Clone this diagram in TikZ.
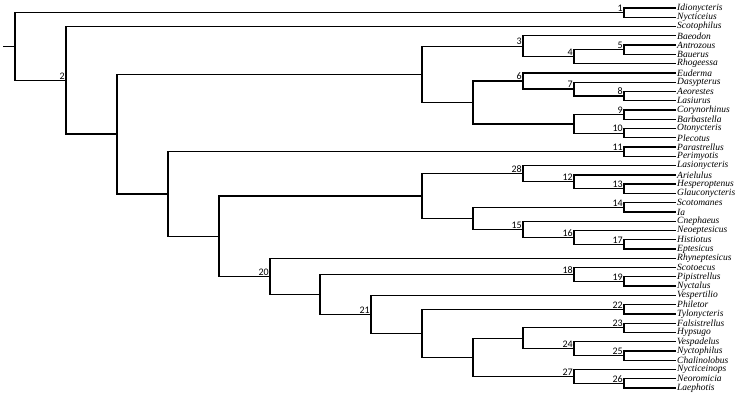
\documentclass[tikz,border=0pt]{standalone}
\usepackage{fontspec}
\setmainfont{Liberation Serif}
\newfontfamily\numfont{Carlito}
\usetikzlibrary{calc}

\tikzset{
  branch/.style={line width=1.3pt},
  taxon/.style={anchor=west, inner sep=1pt, font=\fontsize{9.5}{10}\selectfont\itshape},
  numlab/.style={anchor=south east, inner sep=1pt, font=\fontsize{10}{10}\selectfont\numfont}
}
% name, x, upper child, lower child, label
\newcommand\clade[5]{%
  \path let \p1=(#3), \p2=(#4) in coordinate (#1) at ({#2pt},{0.5*\y1+0.5*\y2});
  \draw[branch] (#3) -| (#1) |- (#4);
  \node[numlab] at (#1) {#5};
}

\begin{document}
\begin{tikzpicture}[x=1pt,y=-1pt]
\useasboundingbox (0,0) rectangle (750,400);

% tips, top to bottom
\foreach[count=\i] \t in {Idionycteris,Nycticeius,Scotophilus,Baeodon,Antrozous,Bauerus,Rhogeessa,
  Euderma,Dasypterus,Aeorestes,Lasiurus,Corynorhinus,Barbastella,Otonycteris,Plecotus,
  Parastrellus,Perimyotis,Lasionycteris,Arielulus,Hesperoptenus,Glauconycteris,Scotomanes,Ia,
  Cnephaeus,Neoeptesicus,Histiotus,Eptesicus,Rhyneptesicus,Scotoecus,Pipistrellus,Nyctalus,
  Vespertilio,Philetor,Tylonycteris,Falsistrellus,Hypsugo,Vespadelus,Nyctophilus,Chalinolobus,
  Nycticeinops,Neoromicia,Laephotis}{
  \coordinate (L\i) at (676,{8+9.27*(\i-1)});
  \node[taxon] (T\i) at (L\i) {\t};
}

% innermost clades first
\clade{n1}{624}{L1}{L2}{1}
\clade{n5}{624}{L5}{L6}{5}
\clade{n4}{574}{n5}{L7}{4}
\clade{n3}{523}{L4}{n4}{3}
\clade{n8}{624}{L10}{L11}{8}
\clade{n7}{574}{L9}{n8}{7}
\clade{n6}{523}{L8}{n7}{6}
\clade{n9}{624}{L12}{L13}{9}
\clade{n10}{624}{L14}{L15}{10}
\clade{nP}{574}{n9}{n10}{}
\clade{nQ}{473}{n6}{nP}{}
\clade{nB}{422}{n3}{nQ}{}
\clade{n11}{624}{L16}{L17}{11}
\clade{n13}{624}{L20}{L21}{13}
\clade{n12}{574}{L19}{n13}{12}
\clade{n28}{523}{L18}{n12}{28}
\clade{n14}{624}{L22}{L23}{14}
\clade{n17}{624}{L26}{L27}{17}
\clade{n16}{574}{L25}{n17}{16}
\clade{n15}{523}{L24}{n16}{15}
\clade{nF}{473}{n14}{n15}{}
\clade{nE}{422}{n28}{nF}{}
\clade{n19}{624}{L30}{L31}{19}
\clade{n18}{574}{L29}{n19}{18}
\clade{n22}{624}{L33}{L34}{22}
\clade{n23}{624}{L35}{L36}{23}
\clade{n25}{624}{L38}{L39}{25}
\clade{n24}{574}{L37}{n25}{24}
\clade{nJ}{523}{n23}{n24}{}
\clade{n26}{624}{L41}{L42}{26}
\clade{n27}{574}{L40}{n26}{27}
\clade{nI}{473}{nJ}{n27}{}
\clade{nH}{422}{n22}{nI}{}
\clade{n21}{371}{L32}{nH}{21}
\clade{nG}{320}{n18}{n21}{}
\clade{n20}{270}{L28}{nG}{20}
\clade{nD}{219}{nE}{n20}{}
\clade{nC}{168}{n11}{nD}{}
\clade{nA}{117}{nB}{nC}{}
\clade{n2}{66}{L3}{nA}{2}
\clade{root}{15}{n1}{n2}{}

\coordinate (stem) at ($(root)+(-12,0)$);
\draw[branch] (stem) -- (root);
\end{tikzpicture}
\end{document}
